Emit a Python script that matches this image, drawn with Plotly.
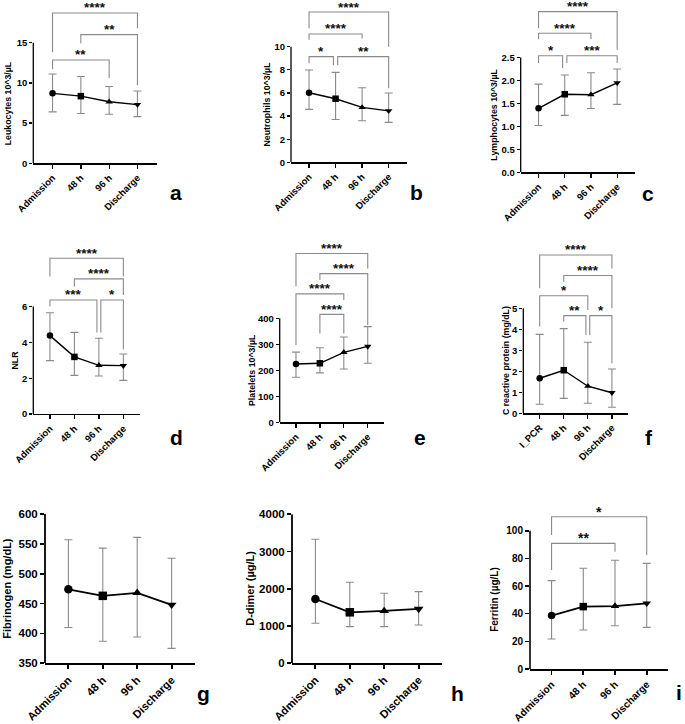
import plotly.graph_objects as go

W, H = 685, 724
FONT = "Liberation Sans, Arial, sans-serif"

# ---------------- data ----------------
categories = ["Admission", "48 h", "96 h", "Discharge"]
categories_crp = ["I_PCR", "48 h", "96 h", "Discharge"]

leuko_med = [8.7, 8.35, 7.65, 7.3]
leuko_lo = [6.4, 6.2, 6.1, 5.8]
leuko_hi = [11.1, 10.8, 9.55, 9.0]

neutro_med = [6.02, 5.5, 4.75, 4.45]
neutro_lo = [4.58, 3.7, 3.6, 3.45]
neutro_hi = [7.98, 7.78, 6.45, 6.0]

lympho_med = [1.395, 1.70, 1.69, 1.95]
lympho_lo = [1.02, 1.24, 1.39, 1.48]
lympho_hi = [1.92, 2.12, 2.17, 2.25]

nlr_med = [4.38, 3.19, 2.72, 2.70]
nlr_lo = [2.98, 2.16, 2.12, 1.88]
nlr_hi = [5.66, 4.56, 4.23, 3.35]

plt_med = [224, 227, 269, 292]
plt_lo = [173, 190, 205, 227]
plt_hi = [270, 287, 328, 368]

crp_med = [1.67, 2.05, 1.29, 0.98]
crp_lo = [0.43, 0.71, 0.48, 0.29]
crp_hi = [3.76, 4.03, 3.38, 2.11]

fib_med = [474, 463, 468, 448]
fib_lo = [410, 387, 394, 375]
fib_hi = [557, 543, 561, 526]

ddim_med = [1727, 1369, 1405, 1459]
ddim_lo = [1074, 984, 984, 1029]
ddim_hi = [3329, 2174, 1879, 1924]

ferr_med = [38.6, 45.1, 45.5, 47.5]
ferr_lo = [21.7, 28.2, 31.3, 30.1]
ferr_hi = [63.9, 72.8, 78.6, 76.4]

# significance brackets: (label, from index, to index, bracket level, left leg end, right leg end)
leuko_sig = [("****", 0, 3, 18.7, 13.8, 16.8), ("**", 1, 3, 16.0, 14.9, 9.7), ("**", 0, 2, 12.85, 11.7, 10.6)]
neutro_sig = [("****", 0, 3, 13.0, 11.6, 10.0), ("****", 0, 2, 11.1, 10.6, 10.7),
              ("*", 0, 1, 9.14, 8.56, 8.4), ("**", 1, 3, 9.14, 8.4, 6.4)]
lympho_sig = [("****", 0, 3, 3.50, 3.14, 2.67), ("****", 0, 2, 3.03, 2.90, 2.90),
              ("*", 0, 1, 2.54, 2.38, 2.27), ("***", 1, 3, 2.54, 2.38, 2.38)]
nlr_sig = [("****", 0, 3, 8.70, 7.68, 7.68), ("****", 1, 3, 7.55, 7.12, 6.65),
           ("***", 0, 2, 6.37, 6.0, 4.56), ("*", 2, 3, 6.37, 4.56, 3.6)]
plt_sig = [("****", 0, 3, 649, 522, 592), ("****", 1, 3, 572, 547, 374),
           ("****", 0, 2, 494, 297, 470), ("****", 1, 2, 415, 342, 342)]
crp_sig = [("****", 0, 3, 7.54, 5.95, 6.9), ("****", 1, 3, 6.56, 6.27, 5.0),
           ("*", 0, 2, 5.60, 4.13, 4.92), ("**", 1, 2, 4.65, 4.37, 3.73), ("*", 2, 3, 4.65, 3.73, 2.38)]
ferr_sig = [("*", 0, 3, 110.1, 96.9, 82.4), ("**", 0, 2, 90.8, 71.6, 84.8)]

# ---------------- panel layout ----------------
small = dict(ytick=9.5, xtick=9.5, title=8.8, msize=6.5, lw=1.4, axw=1.3, cap=4, star=13.5, tl=3)
big = dict(ytick=11.5, xtick=11.2, title=11, msize=8.5, lw=1.8, axw=1.8, cap=4, star=14, tl=4)
mid = dict(ytick=10, xtick=10.2, title=10, msize=7.5, lw=1.8, axw=1.6, cap=4, star=14, tl=4)

panels = [
    dict(cats=categories, med=leuko_med, lo=leuko_lo, hi=leuko_hi, sig=leuko_sig,
         title="Leukocytes 10^3/µL", ticks=[0, 5, 10, 15], fmt="",
         left=33.3, right=156.7, bottom=163.3, ppu=8.04, ymin=0, ymax=20.2,
         toff=25, label="a", lab=(176, 192), st=small),
    dict(cats=categories, med=neutro_med, lo=neutro_lo, hi=neutro_hi, sig=neutro_sig,
         title="Neutrophils 10^3/µL", ticks=[0, 2, 4, 6, 8, 10], fmt="",
         left=291, right=406.7, bottom=162.3, ppu=11.56, ymin=0, ymax=14,
         toff=25, label="b", lab=(416, 192), st=small),
    dict(cats=categories, med=lympho_med, lo=lympho_lo, hi=lympho_hi, sig=lympho_sig,
         title="Lymphocytes 10^3/µL", ticks=[0, 0.5, 1.0, 1.5, 2.0, 2.5], fmt=".1f",
         left=520.7, right=635, bottom=172.3, ppu=45.9, ymin=0, ymax=3.7,
         toff=27, label="c", lab=(648, 194), st=small),
    dict(cats=categories, med=nlr_med, lo=nlr_lo, hi=nlr_hi, sig=nlr_sig,
         title="NLR", ticks=[0, 2, 4, 6], fmt="",
         left=33.3, right=140, bottom=414, ppu=17.9, ymin=0, ymax=9.3,
         toff=18, label="d", lab=(176, 437), st=small),
    dict(cats=categories, med=plt_med, lo=plt_lo, hi=plt_hi, sig=plt_sig,
         title="Platelets 10^3/µL", ticks=[0, 100, 200, 300, 400], fmt="",
         left=279.7, right=384, bottom=422.3, ppu=0.26, ymin=0, ymax=690,
         toff=27, label="e", lab=(420, 437), st=small),
    dict(cats=categories_crp, med=crp_med, lo=crp_lo, hi=crp_hi, sig=crp_sig,
         title="C reactive protein (mg/dL)", ticks=[0, 1, 2, 3, 4, 5], fmt="",
         left=523.3, right=628.3, bottom=413.3, ppu=21, ymin=0, ymax=8.0,
         toff=18, label="f", lab=(649, 437), st=small),
    dict(cats=categories, med=fib_med, lo=fib_lo, hi=fib_hi, sig=[],
         title="Fibrinogen (mg/dL)", ticks=[350, 400, 450, 500, 550, 600], fmt="",
         left=45, right=195, bottom=663.3, ppu=0.597, ymin=350, ymax=600,
         toff=38, label="g", lab=(203, 693), st=big),
    dict(cats=categories, med=ddim_med, lo=ddim_lo, hi=ddim_hi, sig=[],
         title="D-dimer (µg/L)", ticks=[0, 1000, 2000, 3000, 4000], fmt="",
         left=292, right=442, bottom=663.3, ppu=0.03725, ymin=0, ymax=4000,
         toff=42, label="h", lab=(457, 693), st=big),
    dict(cats=categories, med=ferr_med, lo=ferr_lo, hi=ferr_hi, sig=ferr_sig,
         title="Ferritin (µg/L)", ticks=[0, 20, 40, 60, 80, 100], fmt="",
         left=530, right=668.3, bottom=669, ppu=1.383, ymin=0, ymax=116,
         toff=35, label="i", lab=(679, 692), st=mid),
]

symbols = ["circle", "square", "triangle-up", "triangle-down"]
XR = [-0.68, 3.68]
GRAY = "#8a8a8a"

fig = go.Figure()
layout = dict(width=W, height=H, margin=dict(l=0, r=0, t=0, b=0, autoexpand=False),
              paper_bgcolor="white", plot_bgcolor="rgba(0,0,0,0)", showlegend=False,
              font=dict(family=FONT, color="black"), hovermode=False)
shapes = []
annotations = []

for k, p in enumerate(panels, start=1):
    st = p["st"]
    xa = "x" if k == 1 else f"x{k}"
    ya = "y" if k == 1 else f"y{k}"
    xkey = "xaxis" if k == 1 else f"xaxis{k}"
    ykey = "yaxis" if k == 1 else f"yaxis{k}"
    top = p["bottom"] - (p["ymax"] - p["ymin"]) * p["ppu"]
    xs = list(range(len(p["cats"])))
    up = [h - m for h, m in zip(p["hi"], p["med"])]
    dn = [m - l for m, l in zip(p["med"], p["lo"])]
    fig.add_trace(go.Scatter(
        x=xs, y=p["med"], xaxis=xa, yaxis=ya, mode="lines+markers",
        line=dict(color="black", width=st["lw"]),
        marker=dict(symbol=symbols, size=st["msize"], color="black"),
        error_y=dict(type="data", symmetric=False, array=up, arrayminus=dn,
                     color=GRAY, thickness=1.1, width=st["cap"]),
        cliponaxis=False, hoverinfo="skip"))
    layout[xkey] = dict(domain=[p["left"] / W, p["right"] / W], range=XR, anchor=ya,
                        automargin=False,
                        tickvals=xs, ticktext=p["cats"], tickangle=-45,
                        ticks="outside", ticklen=4, tickwidth=st["axw"], tickcolor="black",
                        showline=True, linecolor="black", linewidth=st["axw"],
                        showgrid=False, zeroline=False, fixedrange=True,
                        tickfont=dict(family=FONT, size=st["xtick"], color="black", weight="bold"))
    layout[ykey] = dict(domain=[1 - p["bottom"] / H, 1 - top / H], range=[p["ymin"], p["ymax"]],
                        anchor=xa, automargin=False, tickvals=p["ticks"], tickformat=p["fmt"],
                        ticks="outside", ticklen=st["tl"], tickwidth=st["axw"], tickcolor="black",
                        showline=False, showgrid=False, zeroline=False, fixedrange=True,
                        tickfont=dict(family=FONT, size=st["ytick"], color="black", weight="bold"))
    # y-axis line only over the tick range
    shapes.append(dict(type="line", xref=f"{xa} domain", yref=ya, x0=0, x1=0,
                       y0=p["ymin"], y1=p["ticks"][-1],
                       line=dict(color="black", width=st["axw"])))
    # y title centred on tick range
    annotations.append(dict(xref=f"{xa} domain", yref=ya, x=0, y=(p["ymin"] + p["ticks"][-1]) / 2,
                            xshift=-p["toff"], text=p["title"], textangle=-90, showarrow=False,
                            xanchor="center", yanchor="middle",
                            font=dict(family=FONT, size=st["title"], color="black", weight="bold")))
    # significance brackets
    for lab, i, j, yb, yl, yr in p["sig"]:
        dxl = 0.08 if any(abs(o[3] - yb) < 1e-9 and o[2] == i for o in p["sig"]) else 0
        dxr = -0.08 if any(abs(o[3] - yb) < 1e-9 and o[1] == j for o in p["sig"]) else 0
        x1, x2 = i + dxl, j + dxr
        shapes.append(dict(type="path", xref=xa, yref=ya,
                           path=f"M {x1},{yl} L {x1},{yb} L {x2},{yb} L {x2},{yr}",
                           line=dict(color=GRAY, width=1.1)))
        annotations.append(dict(xref=xa, yref=ya, x=(x1 + x2) / 2, y=yb, text=lab,
                                showarrow=False, xanchor="center", yanchor="middle", yshift=5,
                                font=dict(family=FONT, size=st["star"], color="#111111", weight="bold")))
    # panel letter
    annotations.append(dict(xref="paper", yref="paper", x=p["lab"][0] / W, y=1 - p["lab"][1] / H,
                            text=p["label"], showarrow=False, xanchor="center", yanchor="middle",
                            font=dict(family=FONT, size=21, color="black", weight="bold")))

layout["shapes"] = shapes
layout["annotations"] = annotations
fig.update_layout(**layout)
fig.write_html("out.html", config={"displayModeBar": False, "staticPlot": True},
               post_script="document.body.style.margin='0';document.body.style.padding='0';")
